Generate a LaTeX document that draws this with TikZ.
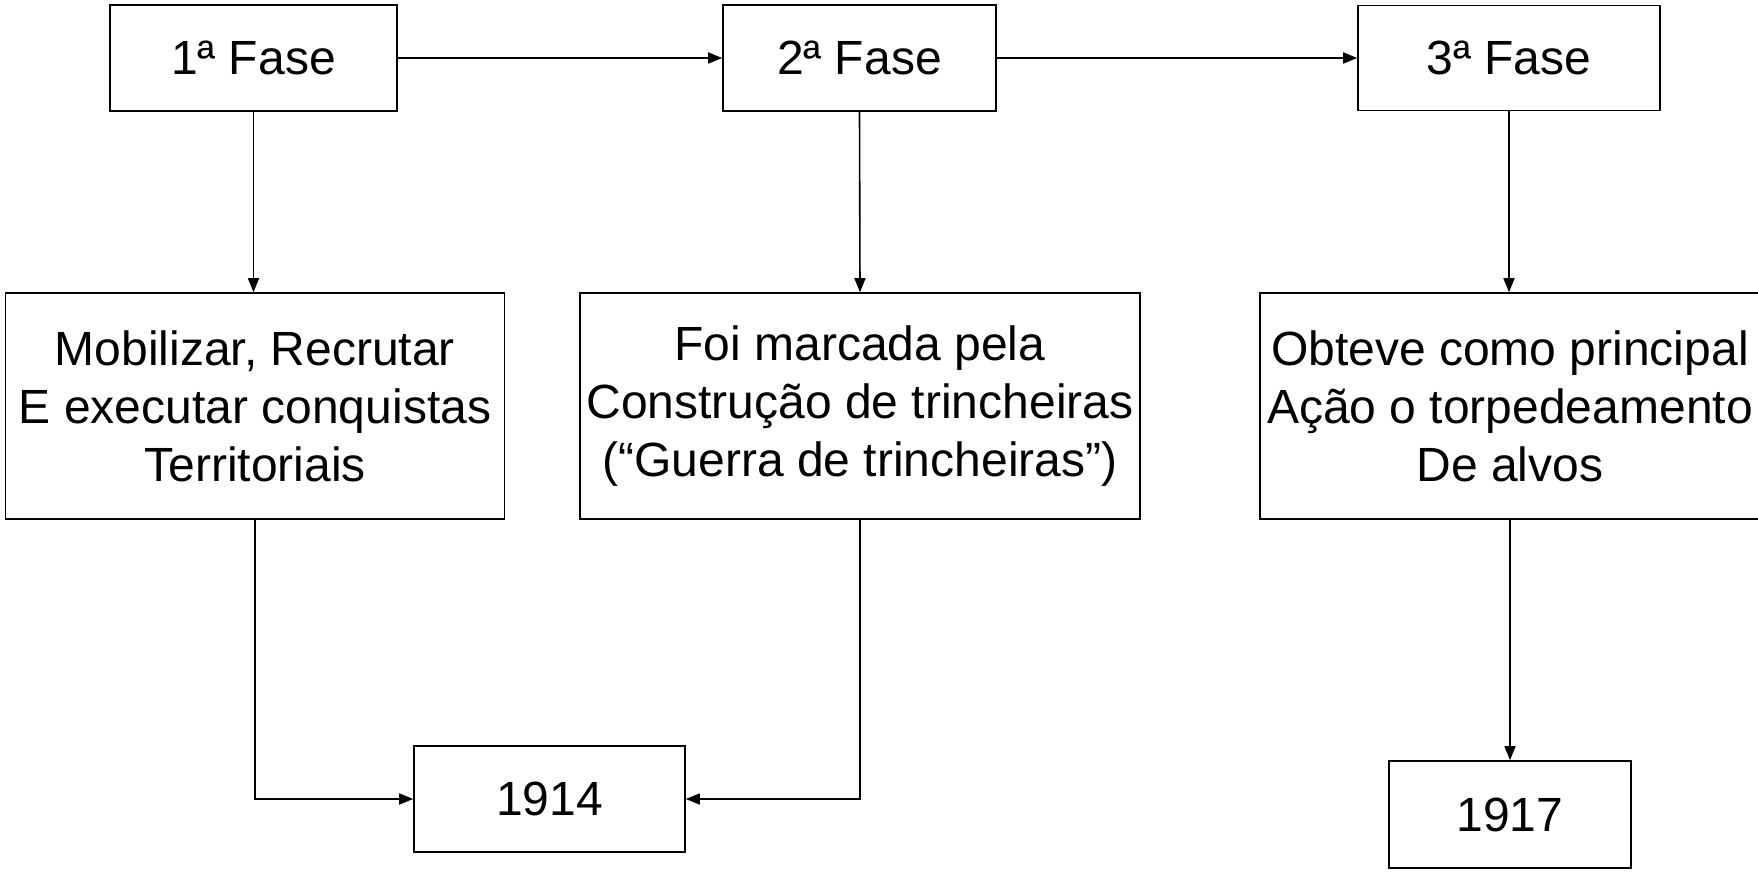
\documentclass[tikz,border=0pt]{standalone}
\usepackage{fontspec}
\setmainfont{Liberation Sans}
\usetikzlibrary{arrows.meta}

\tikzset{
  fase/.style={draw, line width=0.8pt, align=center, inner sep=0pt,
    font=\fontsize{24}{29}\selectfont},
  seta/.style={line width=0.8pt, -{Triangle[length=7pt,width=5.5pt]}}
}

\begin{document}
\begin{tikzpicture}[x=0.5pt, y=-0.5pt]

\useasboundingbox (0,0) rectangle (1758,872);

% fases
\node[fase, minimum width=143.5pt, minimum height=53pt] (f1) at (253.5,58) {1ª Fase};
\node[fase, minimum width=136.5pt, minimum height=53pt] (f2) at (859.5,58) {2ª Fase};
\node[fase, minimum width=151pt, minimum height=52.5pt] (f3) at (1509,58) {3ª Fase};

% descricoes
\node[fase, minimum width=249.5pt, minimum height=113pt] (d1) at (255,406)
  {Mobilizar, Recrutar\\E executar conquistas\\Territoriais};
\node[fase, minimum width=280pt, minimum height=113pt] (d2) at (860,406)
  {Foi marcada pela\\Construção de trincheiras\\(“Guerra de trincheiras”)};
\node[fase, minimum width=250pt, minimum height=113pt] (d3) at (1510,406)
  {Obteve como principal\\Ação o torpedeamento\\De alvos};

% anos
\node[fase, minimum width=135.5pt, minimum height=53pt] (a1914) at (549.5,799) {1914};
\node[fase, minimum width=121pt, minimum height=53.5pt] (a1917) at (1510,814.5) {1917};

\draw[seta] (f1) -- (f2);
\draw[seta] (f2) -- (f3);

\draw[seta] (f1.south) -- (f1.south |- d1.north);
\draw[seta] (f2.south) -- (d2.north);
\draw[seta] (f3.south) -- (f3.south |- d3.north);

\draw[seta] (d1.south) |- (a1914.west);
\draw[seta] (d2.south) |- (a1914.east);
\draw[seta] (d3.south) -- (a1917.north);

\end{tikzpicture}
\end{document}
